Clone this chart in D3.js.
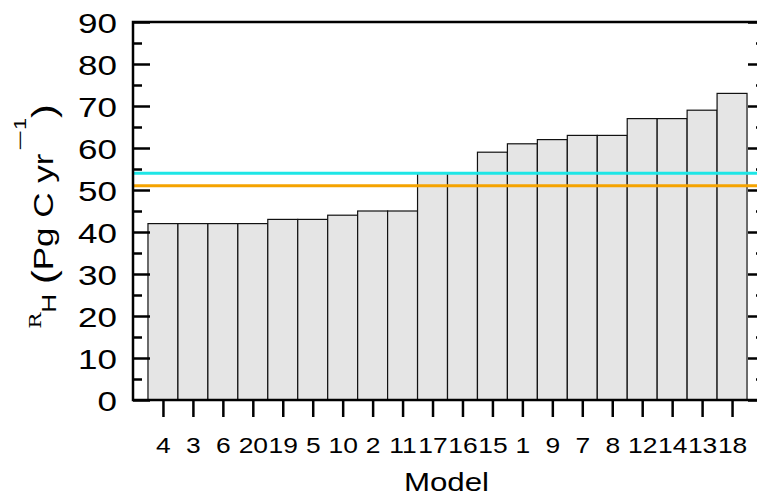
<!DOCTYPE html>
<html>
<head>
<meta charset="utf-8">
<script src="https://cdn.jsdelivr.net/npm/d3@7"></script>
<style>
  body { margin: 0; background: #fff; }
  text { font-family: "Liberation Sans", Arial, sans-serif; fill: #000; }
</style>
</head>
<body>
<svg width="757" height="499"></svg>
<script>
var models = ["4", "3", "6", "20", "19", "5", "10", "2", "11", "17", "16", "15", "1", "9", "7", "8", "12", "14", "13", "18"];
var rh = [42, 42, 42, 42, 43, 43, 44, 45, 45, 54, 54, 59, 61, 62, 63, 63, 67, 67, 69, 73];
var refValues = [54, 51];
var refColors = ["#1ee6e6", "#f5a300"];
var yTicks = [0, 10, 20, 30, 40, 50, 60, 70, 80, 90];
var yMinor = [5, 15, 25, 35, 45, 55, 65, 75, 85];

var plotLeft = 133, plotTop = 22, plotBottom = 400, plotRight = 765;
var stretch = 1.25; // text in the picture is drawn wider than Arial

var svg = d3.select('svg');

var x = d3.scaleLinear().domain([0, 21.1]).range([plotLeft, plotRight]);
var y = d3.scaleLinear().domain([0, 90]).range([plotBottom, plotTop]);
var bw = x(1) - x(0);

// bars
svg.append('g')
    .attr('class', 'bars')
    .selectAll('rect')
    .data(rh)
    .enter()
    .append('rect')
        .attr('x', function(d, i){ return x(i + 0.5) })
        .attr('y', function(d){ return y(d) })
        .attr('width', bw)
        .attr('height', function(d){ return y(0) - y(d) })
        .attr('fill', '#e5e5e5')
        .attr('stroke', '#111')
        .attr('stroke-width', 1.2);

// reference lines
svg.append('g')
    .selectAll('line')
    .data(refValues)
    .enter()
    .append('line')
        .attr('x1', plotLeft)
        .attr('x2', plotRight)
        .attr('y1', function(d){ return y(d) })
        .attr('y2', function(d){ return y(d) })
        .attr('stroke', function(d, i){ return refColors[i] })
        .attr('stroke-width', 3);

// axes
var yAxisL = d3.axisRight(y).tickValues(yTicks).tickSize(17).tickFormat('');
var yAxisR = d3.axisLeft(y).tickValues(yTicks).tickSize(17).tickFormat('');
var yMinL = d3.axisRight(y).tickValues(yMinor).tickSize(9).tickFormat('');
var yMinR = d3.axisLeft(y).tickValues(yMinor).tickSize(9).tickFormat('');

svg.append('g').attr('transform', 'translate(' + plotLeft + ',0)').call(yAxisL);
svg.append('g').attr('transform', 'translate(' + plotLeft + ',0)').call(yMinL);
svg.append('g').attr('transform', 'translate(' + plotRight + ',0)').call(yAxisR);
svg.append('g').attr('transform', 'translate(' + plotRight + ',0)').call(yMinR);

var xAxis = d3.axisBottom(x)
    .tickValues(d3.range(1, models.length + 1))
    .tickSize(17)
    .tickPadding(20)
    .tickFormat(function(d){ return models[d - 1] });
var xg = svg.append('g').attr('transform', 'translate(0,' + plotBottom + ')').call(xAxis);
xg.selectAll('text')
    .attr('font-size', 22)
    .attr('font-family', '"Liberation Sans", Arial, sans-serif')
    .attr('fill', '#000')
    .attr('transform', 'scale(' + 1.2 + ',1)');

svg.selectAll('.domain').remove();
svg.selectAll('.tick line').attr('stroke', '#000').attr('stroke-width', 2.5);

// frame
svg.append('rect')
    .attr('x', plotLeft).attr('y', plotTop)
    .attr('width', plotRight - plotLeft).attr('height', plotBottom - plotTop)
    .attr('fill', 'none').attr('stroke', '#000').attr('stroke-width', 2.5);

// y tick labels
svg.append('g')
    .selectAll('text')
    .data(yTicks)
    .enter()
    .append('text')
        .attr('transform', function(d){ return 'translate(117,' + (y(d) + 10.5) + ') scale(' + stretch + ',1)' })
        .attr('text-anchor', 'end')
        .style('font-size', '28px')
        .text(function(d){ return d });

// titles
svg.append('text')
    .attr('transform', 'translate(446.5,491) scale(1.18,1)')
    .attr('text-anchor', 'middle')
    .style('font-size', '26.5px')
    .text('Model');

var yt = svg.append('text')
    .attr('transform', 'translate(53,216.5) rotate(-90) scale(' + stretch + ',1)')
    .attr('text-anchor', 'middle')
    .style('font-size', '28px');
yt.append('tspan').attr('dy', -12).style('font-family', '"DejaVu Serif", serif').style('font-size', '17px').text('R');
yt.append('tspan').attr('dy', 15).style('font-size', '21px').text('H');
yt.append('tspan').attr('dy', -3).text(' ');
yt.append('tspan').attr('dy', 2).style('font-size', '33px').text('(');
yt.append('tspan').attr('dy', -2).text('Pg C yr');
yt.append('tspan').attr('dy', -27).attr('dx', 2).style('font-size', '17px')
    .attr('textLength', 17).attr('lengthAdjust', 'spacingAndGlyphs').text('\u2212');
yt.append('tspan').style('font-size', '17px').text('1');
yt.append('tspan').attr('dy', 29).style('font-size', '33px').text(')');
</script>
</body>
</html>
